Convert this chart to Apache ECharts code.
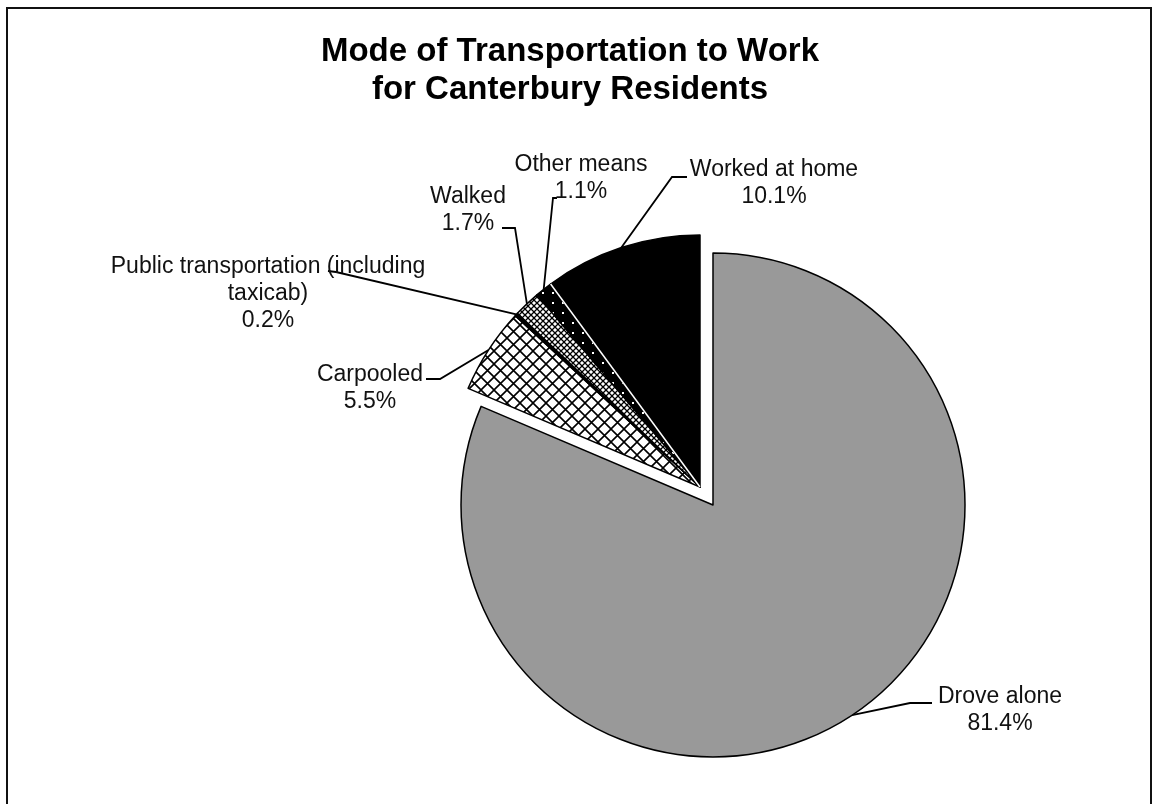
<!DOCTYPE html>
<html>
<head>
<meta charset="utf-8">
<title>Mode of Transportation to Work</title>
<script src="https://cdn.jsdelivr.net/npm/echarts@6/dist/echarts.min.js"></script>
<style>
  html, body { margin: 0; padding: 0; background: #fff; }
  #chart { width: 1153px; height: 804px; }
</style>
</head>
<body>
<div id="chart"></div>
<script>
// data (percent of residents)
var modeNames = ['Drove alone', 'Carpooled', 'Public transportation (including\ntaxicab)', 'Walked', 'Other means', 'Worked at home'];
var modeShares = [81.4, 5.5, 0.2, 1.7, 1.1, 10.1];
var explodedModes = [false, true, true, true, true, true];

var RADIUS = 252;
var mainCenter = [713, 505];   // drove alone
var pulledCenter = [700, 487]; // the rest, pulled out a bit

// where each label sits, and the short elbow of its leader line
var labelPos = [[1000, 710], [370, 388], [268, 294], [468, 210], [581, 178], [774, 183]];
var lineEnd = [[932, 703], [426, 379], [328, 271], [502, 228], [557, 198], [687, 177]];
var lineElbow = [[910, 703], [440, 379], [336, 272], [515, 228], [553, 198], [672, 177]];

function makeTile(size, draw) {
    var c = document.createElement('canvas');
    c.width = size; c.height = size;
    var ctx = c.getContext('2d');
    draw(ctx, size);
    return { image: c, repeat: 'repeat' };
}
function crossHatch(size, lw) {
    return makeTile(size, function (ctx, s) {
        ctx.fillStyle = '#fff';
        ctx.fillRect(0, 0, s, s);
        ctx.strokeStyle = '#000';
        ctx.lineWidth = lw;
        ctx.beginPath();
        ctx.moveTo(0, 0); ctx.lineTo(s, s);
        ctx.moveTo(s, 0); ctx.lineTo(0, s);
        ctx.stroke();
    });
}
var dotted = makeTile(10, function (ctx, s) {
    ctx.fillStyle = '#000';
    ctx.fillRect(0, 0, s, s);
    ctx.fillStyle = '#fff';
    ctx.fillRect(2, 2, 2, 2);
});

var fills = ['#999999', crossHatch(13, 1.6), '#000000', crossHatch(6, 1.3), dotted, '#000000'];

var total = modeShares.reduce(function (a, b) { return a + b; }, 0);

// point on the rim at the middle of slice i (clockwise from 12 o'clock)
function rimPoint(i, center) {
    var before = 0;
    for (var k = 0; k < i; k++) before += modeShares[k];
    var ang = (before + modeShares[i] / 2) / total * Math.PI * 2;
    return [center[0] + RADIUS * Math.sin(ang), center[1] - RADIUS * Math.cos(ang)];
}

function buildData(wantExploded) {
    return modeNames.map(function (name, i) {
        var visible = explodedModes[i] === wantExploded;
        return {
            name: name,
            value: modeShares[i],
            itemStyle: visible ? { color: fills[i], borderColor: '#000', borderWidth: 1.5 }
                               : { color: 'rgba(0,0,0,0)', borderWidth: 0 },
            label: { show: visible },
            labelLine: { show: visible }
        };
    });
}

function makeSeries(wantExploded, center) {
    return {
        type: 'pie',
        center: center,
        radius: RADIUS,
        startAngle: 90,
        clockwise: true,
        avoidLabelOverlap: false,
        silent: true,
        animation: false,
        data: buildData(wantExploded),
        label: {
            position: 'outside',
            formatter: function (p) { return p.name + '\n' + p.value.toFixed(1) + '%'; },
            fontFamily: 'Liberation Sans',
            fontSize: 23,
            lineHeight: 27,
            color: '#111',
            align: 'center'
        },
        labelLine: { lineStyle: { color: '#000', width: 1.8 }, smooth: false },
        labelLayout: function (params) {
            var i = params.dataIndex;
            return {
                x: labelPos[i][0],
                y: labelPos[i][1],
                align: 'center',
                verticalAlign: 'middle',
                labelLinePoints: [rimPoint(i, center), lineElbow[i], lineEnd[i]]
            };
        }
    };
}

var chart = echarts.init(document.getElementById('chart'), null, { renderer: 'canvas' });
chart.setOption({
    backgroundColor: '#fff',
    title: {
        text: 'Mode of Transportation to Work\nfor Canterbury Residents',
        left: 565,
        textAlign: 'center',
        top: 28,
        textStyle: {
            fontFamily: 'Liberation Sans',
            fontSize: 33,
            fontWeight: 'bold',
            lineHeight: 38,
            color: '#000'
        }
    },
    graphic: [{
        type: 'rect',
        shape: { x: 7, y: 8, width: 1144, height: 820 },
        style: { fill: null, stroke: '#111', lineWidth: 2 },
        silent: true
    }, {
        // thin white seam between "Other means" and "Worked at home"
        type: 'line',
        shape: {
            x1: pulledCenter[0], y1: pulledCenter[1],
            x2: pulledCenter[0] - RADIUS * Math.sin(2 * Math.PI * modeShares[5] / total),
            y2: pulledCenter[1] - RADIUS * Math.cos(2 * Math.PI * modeShares[5] / total)
        },
        style: { stroke: '#fff', lineWidth: 1.5 },
        z: 10,
        silent: true
    }],
    series: [makeSeries(false, mainCenter), makeSeries(true, pulledCenter)]
});
</script>
</body>
</html>
